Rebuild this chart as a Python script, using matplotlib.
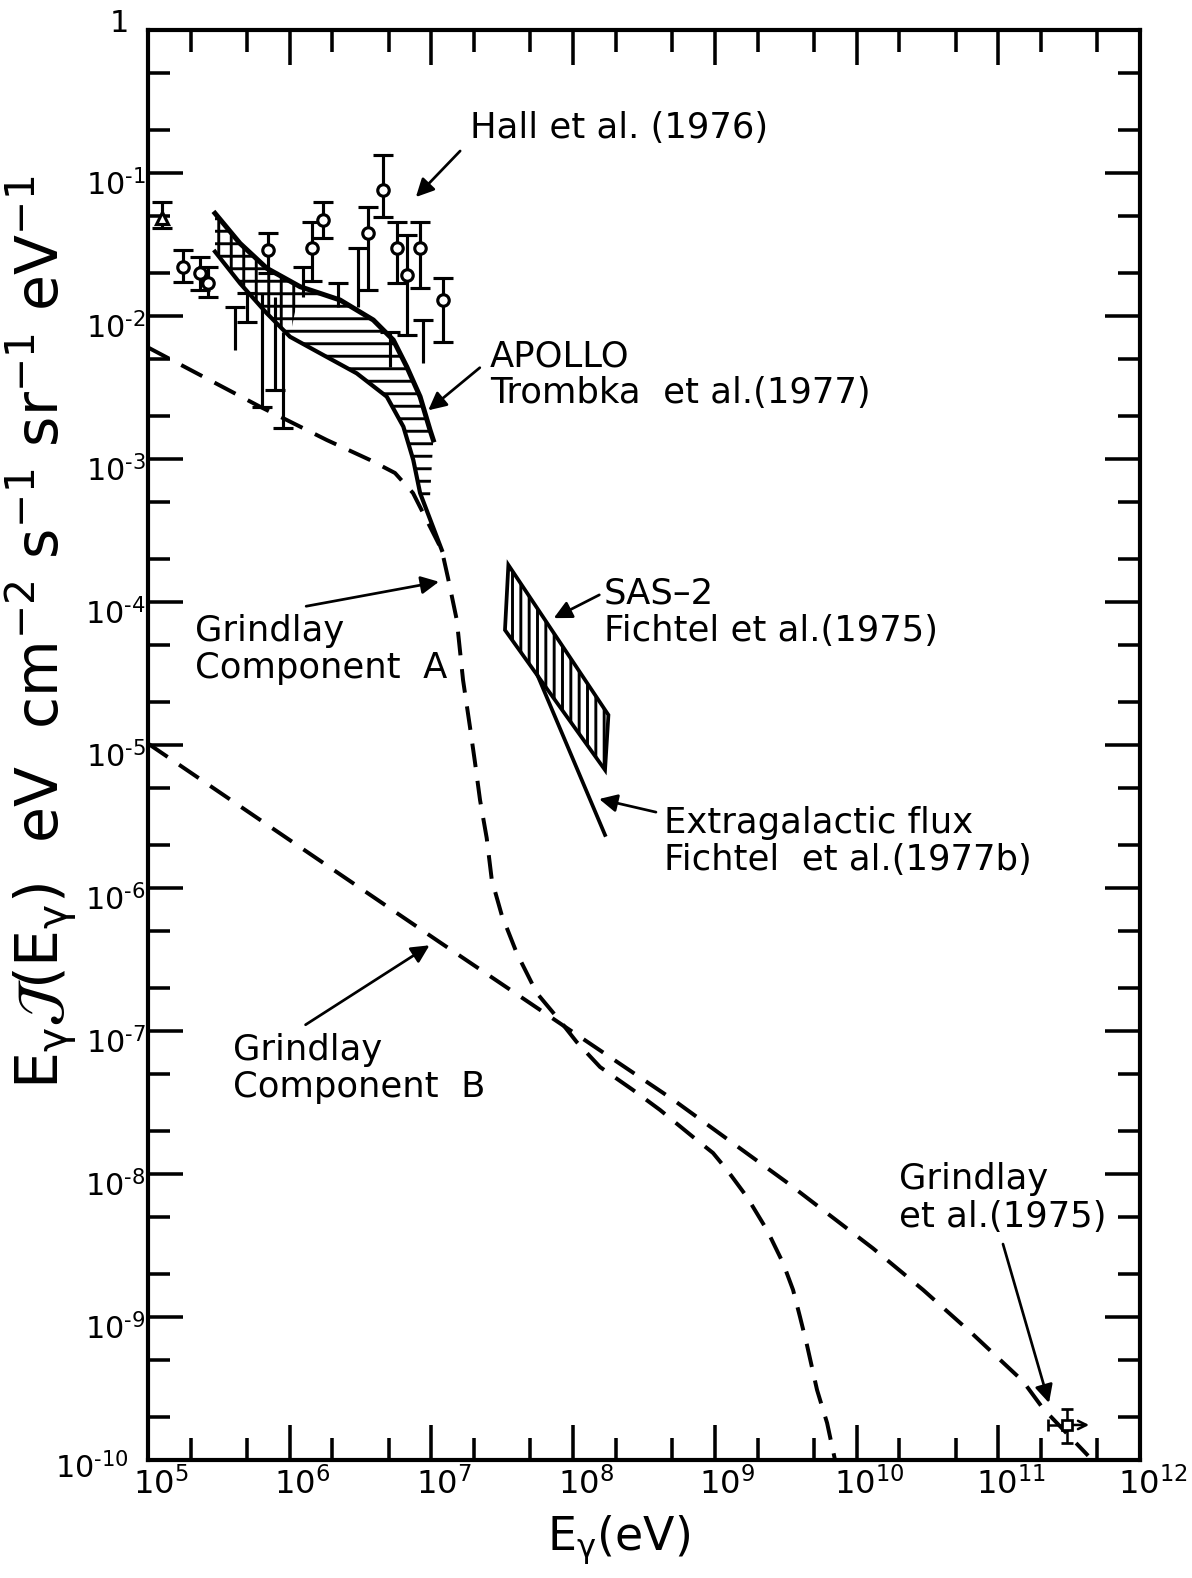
import numpy as np
import matplotlib.pyplot as plt
from matplotlib.ticker import FixedLocator, NullFormatter

plt.rcParams['font.family'] = ['DejaVu Sans']
plt.rcParams['mathtext.fontset'] = 'dejavusans'
plt.rcParams['hatch.linewidth'] = 1.4
plt.rcParams['hatch.color'] = 'black'

# all values as log10(E / eV) and log10(flux)
x_exp = [5, 6, 7, 8, 9, 10, 11, 12]
y_exp = [0, -1, -2, -3, -4, -5, -6, -7, -8, -9, -10]

# Grindlay component A (dashed)
compA_logE = np.array([5.0, 5.79, 5.979, 6.261, 6.567, 6.743, 6.87, 7.073, 7.117, 7.179,
                       7.223, 7.272, 7.308, 7.343, 7.39, 7.426, 7.496, 7.602, 7.743, 7.908,
                       8.025, 8.19, 8.423, 8.613, 8.846, 8.987, 9.086, 9.227, 9.368, 9.481,
                       9.552, 9.601, 9.65, 9.721, 9.792, 9.848])
compA_logF = np.array([-2.22, -2.634, -2.727, -2.867, -3.007, -3.098, -3.238, -3.636, -3.832, -4.126,
                       -4.545, -4.874, -5.126, -5.385, -5.65, -5.944, -6.189, -6.455, -6.734, -6.93,
                       -7.077, -7.252, -7.413, -7.552, -7.741, -7.853, -7.972, -8.161, -8.392, -8.622,
                       -8.811, -9.0, -9.196, -9.51, -9.741, -10.0])

# Grindlay component B (dashed)
compB_logE = np.array([5.0, 7.06, 8.705, 9.51, 10.116, 10.469, 10.82, 11.175, 11.316, 11.634])
compB_logF = np.array([-4.99, -6.38, -7.48, -8.06, -8.52, -8.81, -9.12, -9.45, -9.64, -9.97])

# APOLLO (Trombka et al. 1977) band
apollo_up_logE = np.array([5.473, 5.649, 5.838, 6.073, 6.355, 6.59, 6.731, 6.826, 6.92, 6.99, 7.013])
apollo_up_logF = np.array([-1.282, -1.492, -1.666, -1.795, -1.888, -2.028, -2.168, -2.355, -2.564, -2.797, -2.867])
apollo_lo_logE = np.array([5.473, 5.649, 5.838, 6.002, 6.237, 6.473, 6.685, 6.802, 6.872, 6.92, 7.073])
apollo_lo_logF = np.array([-1.55, -1.771, -1.981, -2.145, -2.273, -2.401, -2.564, -2.774, -3.007, -3.238, -3.636])
apollo_tip_logE = [6.99, 6.93]
apollo_tip_logF = [-3.266, -3.266]

# SAS-2 (Fichtel et al. 1975) band corners
sas_logE = [7.543, 8.249, 8.225, 7.519]
sas_logF = [-3.741, -4.79, -5.175, -4.196]

# extragalactic flux (Fichtel et al. 1977b)
xgal_logE = [7.75, 8.225]
xgal_logF = [-4.516, -5.629]

# Hall et al. (1976) points: value, upper, lower
hall_logE = np.array([5.249, 5.367, 5.423, 5.849, 6.155, 6.237, 6.555, 6.661, 6.755, 6.826, 6.92, 7.084])
hall_logF = np.array([-1.655, -1.701, -1.769, -1.538, -1.527, -1.329, -1.422, -1.119, -1.527, -1.713, -1.527, -1.888])
hall_hi = np.array([-1.538, -1.585, -1.66, -1.42, -1.341, -1.2, -1.236, -0.874, -1.341, -1.434, -1.341, -1.736])
hall_lo = np.array([-1.76, -1.818, -1.87, -1.699, -1.755, -1.457, -1.818, -1.306, -1.771, -2.133, -1.806, -2.18])

# triangle point at 1e5 eV
tri_logE = [5.097]
tri_logF = [-1.315]
tri_hi = [-1.203]
tri_lo = [-1.385]

# bars with a cap on top only
ul_logE = np.array([5.614, 6.096, 6.341, 6.482, 6.708, 6.941])
ul_top = np.array([-1.935, -1.655, -1.771, -1.527, -2.11, -2.028])
ul_bot = np.array([-2.238, -1.865, -1.935, -1.935, -2.355, -2.331])

# bars with a cap at the bottom only
ll_logE = np.array([5.802, 5.896, 5.955])
ll_top = np.array([-1.839, -1.865, -2.11])
ll_bot = np.array([-2.636, -2.517, -2.785])

# bar with both caps
bb_logE = [5.699]
bb_top = [-1.839]
bb_bot = [-2.04]

# Grindlay et al. (1975) point
g75_logE = 11.483
g75_logF = -9.755
g75_hi = -9.64
g75_lo = -9.88
g75_left = 11.35
g75_right = 11.67

fig = plt.figure(figsize=(1192 / 150, 1578 / 150), dpi=150)
ax = fig.add_axes([148 / 1192, 1 - 1460 / 1578, 992 / 1192, 1430 / 1578])
ax.set_xscale('log')
ax.set_yscale('log')
ax.set_xlim(1e5, 1e12)
ax.set_ylim(1e-10, 1)

dash = dict(color='black', lw=1.9, dashes=(6, 3.5))
ax.plot(10.0 ** compA_logE, 10.0 ** compA_logF, **dash)
ax.plot(10.0 ** compB_logE, 10.0 ** compB_logF, **dash)

# APOLLO band, horizontal hatching
keep = apollo_lo_logE <= 6.92
band_e = np.concatenate([apollo_up_logE, apollo_tip_logE, apollo_lo_logE[keep][::-1]])
band_f = np.concatenate([apollo_up_logF, apollo_tip_logF, apollo_lo_logF[keep][::-1]])
ax.fill(10.0 ** band_e, 10.0 ** band_f, facecolor='none', edgecolor='black', hatch='--', lw=0)
cross_e = np.concatenate([apollo_up_logE[:4], apollo_lo_logE[:4][::-1]])
cross_f = np.concatenate([apollo_up_logF[:4], apollo_lo_logF[:4][::-1]])
ax.fill(10.0 ** cross_e, 10.0 ** cross_f, facecolor='none', edgecolor='black', hatch='||', lw=0)
ax.plot(10.0 ** apollo_up_logE, 10.0 ** apollo_up_logF, color='black', lw=2.4)
ax.plot(10.0 ** apollo_lo_logE, 10.0 ** apollo_lo_logF, color='black', lw=2.0)

# SAS-2 band, vertical hatching
ax.fill(10.0 ** np.array(sas_logE), 10.0 ** np.array(sas_logF), facecolor='none',
        edgecolor='black', hatch='|||', lw=1.8)
ax.plot(10.0 ** np.array(xgal_logE), 10.0 ** np.array(xgal_logF), color='black', lw=1.8)

# data points
eb = dict(ecolor='black', elinewidth=1.5, capsize=5, capthick=1.5, zorder=5,
          mfc='white', mec='black', mew=1.5)
hf = 10.0 ** hall_logF
ax.errorbar(10.0 ** hall_logE, hf, yerr=[hf - 10.0 ** hall_lo, 10.0 ** hall_hi - hf],
            fmt='o', ms=5.5, **eb)
tf = 10.0 ** np.array(tri_logF)
ax.errorbar(10.0 ** np.array(tri_logE), tf,
            yerr=[tf - 10.0 ** np.array(tri_lo), 10.0 ** np.array(tri_hi) - tf],
            fmt='^', ms=5.5, **eb)
cap = dict(ls='none', marker='_', ms=10, mew=1.5, color='black')
ax.vlines(10.0 ** ul_logE, 10.0 ** ul_bot, 10.0 ** ul_top, color='black', lw=1.5)
ax.plot(10.0 ** ul_logE, 10.0 ** ul_top, **cap)
ax.vlines(10.0 ** ll_logE, 10.0 ** ll_bot, 10.0 ** ll_top, color='black', lw=1.5)
ax.plot(10.0 ** ll_logE, 10.0 ** ll_bot, **cap)
ax.vlines(10.0 ** np.array(bb_logE), 10.0 ** np.array(bb_bot), 10.0 ** np.array(bb_top),
          color='black', lw=1.5)
ax.plot(10.0 ** np.array(bb_logE * 2), 10.0 ** np.array(bb_top + bb_bot), **cap)

gE, gF = 10.0 ** g75_logE, 10.0 ** g75_logF
ax.errorbar([gE], [gF], yerr=[[gF - 10.0 ** g75_lo], [10.0 ** g75_hi - gF]],
            xerr=[[gE - 10.0 ** g75_left], [0]], fmt='s', ms=5, mfc='white', mec='black',
            mew=1.3, ecolor='black', elinewidth=1.2, capsize=3, capthick=1.2, zorder=5)
ax.annotate('', xy=(10.0 ** g75_right, gF), xytext=(gE, gF),
            arrowprops=dict(arrowstyle='->', lw=1.2, color='black', mutation_scale=10))

# labels with arrows
arrow = dict(arrowstyle='-|>', lw=1.3, color='black', mutation_scale=18)
notes = [
    ('Hall et al. (1976)', (7.272, -0.685), (6.870, -1.189), (7.223, -0.825)),
    ('APOLLO\nTrombka  et al.(1977)', (7.414, -2.41), (6.955, -2.678), (7.364, -2.343)),
    ('SAS\u20132\nFichtel et al.(1975)', (8.215, -4.07), (7.837, -4.126), (8.211, -3.937)),
    ('Extragalactic flux\nFichtel  et al.(1977b)', (8.642, -5.675), (8.155, -5.371), (8.613, -5.476)),
    ('Grindlay\nComponent  A', (5.33, -4.333), (7.082, -3.853), (6.087, -4.035)),
    ('Grindlay\nComponent  B', (5.6, -7.262), (7.011, -6.385), (6.087, -6.972)),
    ('Grindlay\net al.(1975)', (10.3, -8.168), (11.366, -9.629), (11.025, -8.462)),
]
for txt, tpos, head, tail in notes:
    ax.text(10.0 ** tpos[0], 10.0 ** tpos[1], txt, fontsize=17, ha='left', va='center',
            linespacing=1.12)
    ax.annotate('', xy=(10.0 ** head[0], 10.0 ** head[1]),
                xytext=(10.0 ** tail[0], 10.0 ** tail[1]), arrowprops=arrow)

# axes, ticks
for sp in ax.spines.values():
    sp.set_linewidth(2.0)
ax.xaxis.set_major_locator(FixedLocator([10.0 ** k for k in x_exp]))
ax.yaxis.set_major_locator(FixedLocator([10.0 ** k for k in y_exp]))
ax.xaxis.set_minor_locator(FixedLocator([m * 10.0 ** k for k in x_exp[:-1] for m in (2, 5)]))
ax.yaxis.set_minor_locator(FixedLocator([m * 10.0 ** k for k in y_exp[1:] for m in (2, 5)]))
ax.xaxis.set_major_formatter(NullFormatter())
ax.xaxis.set_minor_formatter(NullFormatter())
ax.yaxis.set_major_formatter(NullFormatter())
ax.yaxis.set_minor_formatter(NullFormatter())
ax.tick_params(which='both', direction='in', top=True, right=True, width=1.7, color='black')
ax.tick_params(which='major', length=17)
ax.tick_params(which='minor', length=10.5)

xt = ax.get_xaxis_transform()
for k in x_exp:
    ax.annotate(f'$10^{{{k}}}$', xy=(10.0 ** k, 0), xycoords=xt, xytext=(6, -3),
                textcoords='offset points', ha='center', va='top', fontsize=15.5)
yt = ax.get_yaxis_transform()
for k in y_exp:
    lab = '1' if k == 0 else '$10^{\u2010' + str(-k) + '}$'
    if k == 0:
        off = (-9, 3)
    elif k == -10:
        off = (-9, -4)
    else:
        off = (-1, -6)
    ax.annotate(lab, xy=(0, 10.0 ** k), xycoords=yt, xytext=off,
                textcoords='offset points', ha='right', va='center', fontsize=14.5)

fig.text(42 / 1192, 1 - 632 / 1578,
         r'$\mathrm{E_{\gamma}}\mathcal{J}\mathrm{(E_{\gamma})\ \ eV\ \ cm^{-2}\ s^{-1}\ sr^{-1}\ eV^{-1}}$',
         rotation=90, ha='center', va='center', fontsize=28)
fig.text(619 / 1192, 1 - 1540 / 1578, r'$\mathrm{E_{\gamma}(eV)}$', ha='center', va='center',
         fontsize=22)

fig.savefig('out.png', dpi=150)
